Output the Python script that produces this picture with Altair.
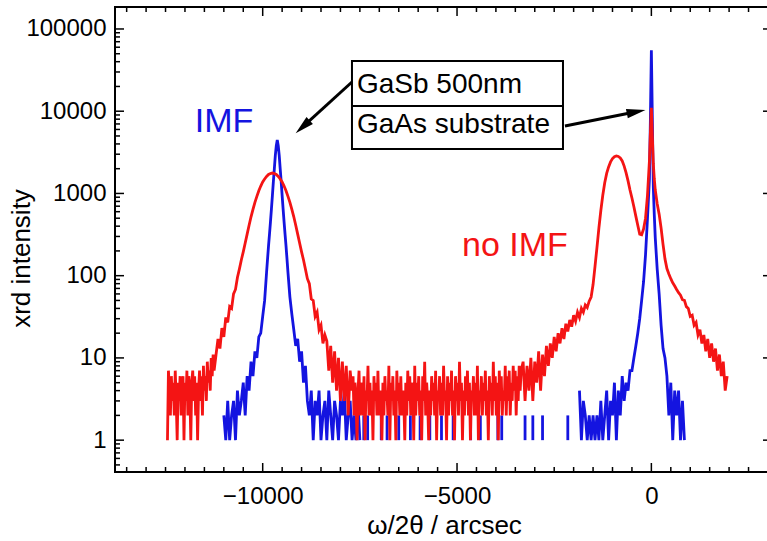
import altair as alt
import numpy as np
import pandas as pd

# ---------------- data ----------------
# each segment: (x_start, x_end, intensities) - arcsec / counts
red_segments = [
    (-12450, -11250, [1, 7, 4, 2, 6, 3, 5, 2, 7, 3,
                      1, 5, 3, 6, 2, 4, 6, 1, 5, 3,
                      7, 2, 6, 4, 1, 5, 7, 3, 6, 2,
                      5, 1, 4, 7, 3, 6, 2, 8, 4, 6,
                      3, 9, 5, 7, 4, 10, 6, 11, 7]),
    (-11200, -10650, [11, 17, 13, 23, 18, 31, 27, 42, 40, 60, 68, 95]),
    (-10600, -8900, [120, 155, 195, 250, 320, 410, 520, 640, 780, 920,
                     1080, 1230, 1380, 1500, 1610, 1700, 1750, 1770, 1750, 1700,
                     1610, 1500, 1380, 1230, 1080, 920, 780, 640, 520, 410,
                     320, 250, 195, 155, 120]),
    (-8850, -7700, [92, 80, 52, 50, 32, 36, 22, 25, 15, 19, 16, 7, 14, 5, 12, 4, 10, 3, 9, 3, 8, 2, 7, 4]),
    (-7675, -3350, [6, 2, 5, 3, 1, 4, 7, 2, 5, 3,
                    2, 6, 1, 4, 3, 8, 2, 5, 2, 4,
                    1, 6, 3, 5, 2, 7, 2, 4, 3, 1,
                    5, 2, 6, 3, 4, 2, 8, 1, 5, 3,
                    6, 2, 4, 1, 7, 3, 5, 2, 6, 2,
                    4, 3, 1, 5, 2, 7, 3, 6, 2, 4,
                    5, 1, 8, 2, 5, 3, 6, 2, 4, 1,
                    6, 3, 9, 2, 5, 3, 1, 4, 2, 6,
                    3, 5, 2, 7, 1, 4, 3, 6, 2, 5,
                    2, 8, 3, 4, 1, 6, 2, 5, 3, 7,
                    2, 4, 1, 6, 3, 5, 2, 9, 3, 5,
                    1, 4, 2, 6, 3, 7, 2, 5, 1, 4,
                    3, 6, 2, 5, 2, 8, 1, 4, 3, 6,
                    2, 5, 3, 7, 2, 4, 1, 6, 3, 5,
                    2, 9, 3, 6, 2, 5, 1, 7, 3, 6,
                    2, 4, 3, 8, 2, 6, 3, 7, 2, 5,
                    3, 8, 4, 7, 2, 6, 3, 8, 4, 7]),
    (-3300, -1500, [9, 3, 8, 4, 10, 3, 9, 5, 12, 4,
                    11, 6, 14, 8, 15, 10, 18, 12, 20, 15,
                    23, 17, 26, 21, 29, 24, 33, 28, 36, 31,
                    40, 36, 44, 41, 49, 55, 78]),
    (-1450, -50, [130, 220, 380, 620, 950, 1350, 1750, 2100, 2420, 2650,
                  2800, 2860, 2820, 2700, 2480, 2150, 1780, 1420, 1100, 880,
                  690, 530, 410, 320, 315, 370, 500, 950, 2500]),
    (-25, 75, [5500, 11000, 5000, 2300, 1500]),
    (100, 1950, [1100, 750, 560, 380, 240, 160, 122, 105, 92, 82,
                 75, 68, 62, 58, 51, 50, 42, 40, 32, 33,
                 25, 27, 19, 22, 15, 19, 12, 17, 10, 15,
                 9, 13, 7, 11, 6, 9, 4, 6]),
]

blue_segments_a = [
    (-11000, -10400, [2, 1, 3, 1, 2, 3, 1, 4, 2, 3, 5, 2, 6]),
    (-10350, -9900, [4, 9, 6, 12, 10, 18, 20, 32, 50, 110]),
    (-9875, -9375, [160, 230, 320, 450, 650, 950, 1400, 2000, 2900, 3800, 4470,
                    3800, 2900, 2000, 1400, 950, 650, 450, 320, 230, 160]),
    (-9350, -8850, [110, 55, 34, 22, 14, 17, 9, 12, 5, 8, 3]),
    (-8800, -7500, [2, 4, 1, 3, 2, 4, 1, 2, 3, 1, 4, 2, 1, 3, 2, 1, 3, 2, 4, 1, 2, 3, 1, 2, 1, 3, 1]),
]
blue_segments_b = [
    (-1850, -550, [4, 1, 3, 2, 1, 2, 1, 2, 1, 2, 1, 3, 1, 2, 4, 1, 3, 2, 5, 1, 4, 2, 6, 3, 5, 4, 7]),
    (-500, -50, [7, 10, 14, 20, 30, 50, 85, 180, 500, 1500]),
    (-25, 75, [8000, 55000, 8000, 1200, 550]),
    (100, 850, [290, 120, 60, 25, 13, 10, 6, 2, 5, 1, 4, 2, 4, 1, 3, 1]),
]
# isolated blue counts in the flat middle region
blue_spike_x = [-7400, -7300, -6950, -6800, -6500, -6200, -5950, -5700, -5400,
                -5100, -4650, -4400, -3950, -3850, -3250, -3050, -2800, -2150]
blue_spike_top = [2, 2, 2, 2, 2, 2, 2, 2, 2, 2, 2, 2, 3, 2, 2, 2, 2, 2]

x_label_values = [-10000, -5000, 0]
y_label_values = [1, 10, 100, 1000, 10000, 100000]

# annotation anchors in data coordinates
imf_label = (-10996, 5580)
noimf_label = (-3509, 173)
box_x = [-7703, -2274]
box_y = [40800, 3470]
box_div_y = 11570
box_text_x = -7574
box_text_y = [16640, 5430]
box_texts = ["GaSb 500nm", "GaAs substrate"]
arrow1 = [(-7703, 22650), (-8971, 6440)]
arrow2 = [(-2223, 6600), (-391, 9840)]


def build(segments, series, part):
    rows = []
    for x0, x1, vals in segments:
        xs = np.linspace(x0, x1, len(vals))
        for xv, yv in zip(xs, vals):
            rows.append({"x": float(xv), "y": float(yv), "series": series, "part": part})
    return rows


red_df = pd.DataFrame(build(red_segments, "no IMF", "r"))
blue_df = pd.DataFrame(build(blue_segments_a, "IMF", "a") + build(blue_segments_b, "IMF", "b"))
spike_df = pd.DataFrame({"x": blue_spike_x, "top": blue_spike_top, "base": [1] * len(blue_spike_x)})

x_minor = [v for v in range(-13500, 3000, 500) if v not in x_label_values]
y_minor = []
for e in range(-1, 6):
    for m in range(2, 10):
        v = m * 10 ** e
        if 0.41 <= v <= 185000:
            y_minor.append(v)

# the plot frame of the original runs slightly past the right edge of the picture
W, H = 652, 465
RED = "#f41414"
BLUE = "#1414e0"
FONT = "Liberation Sans"

xs = alt.Scale(domain=[-13800, 2975], nice=False, zero=False)
ys = alt.Scale(type="log", domain=[0.41, 185000], nice=False)

x_axis = alt.Axis(values=x_label_values, format="d", tickSize=0, domain=False, grid=False,
                  labelFont=FONT, labelFontSize=24, labelPadding=12, labelColor="black",
                  title="ω/2θ / arcsec", titleFont=FONT, titleFontSize=26, titleFontWeight="normal",
                  titleColor="black", titleX=329, titleY=61, titleBaseline="alphabetic")
y_axis = alt.Axis(values=y_label_values, format="d", tickSize=0, domain=False, grid=False,
                  labelFont=FONT, labelFontSize=24, labelPadding=9, labelColor="black",
                  title="xrd intensity", titleFont=FONT, titleFontSize=26, titleFontWeight="normal",
                  titleColor="black", titleAngle=270, titleX=-86, titleY=251,
                  titleBaseline="alphabetic", titleAlign="center")

LW = 2.8
blue_line = alt.Chart(blue_df).mark_line(color=BLUE, strokeWidth=LW).encode(
    x=alt.X("x:Q", scale=xs, axis=x_axis),
    y=alt.Y("y:Q", scale=ys, axis=y_axis),
    detail="part:N",
)
blue_spikes = alt.Chart(spike_df).mark_rule(color=BLUE, strokeWidth=LW).encode(
    x=alt.X("x:Q", scale=xs), y=alt.Y("top:Q", scale=ys), y2="base:Q"
)
red_line = alt.Chart(red_df).mark_line(color=RED, strokeWidth=LW).encode(
    x=alt.X("x:Q", scale=xs), y=alt.Y("y:Q", scale=ys), detail="part:N"
)

box_df = pd.DataFrame({"x": [box_x[0]], "x2": [box_x[1]], "y": [box_y[0]], "y2": [box_y[1]], "yd": [box_div_y]})
box = alt.Chart(box_df).mark_rect(fill="white", stroke="black", strokeWidth=2).encode(
    x=alt.X("x:Q", scale=xs), x2="x2:Q", y=alt.Y("y:Q", scale=ys), y2="y2:Q"
)
divider = alt.Chart(box_df).mark_rule(color="black", strokeWidth=2).encode(
    x=alt.X("x:Q", scale=xs), x2="x2:Q", y=alt.Y("yd:Q", scale=ys)
)
box_text_df = pd.DataFrame({"x": [box_text_x] * 2, "y": box_text_y, "t": box_texts})
box_text = alt.Chart(box_text_df).mark_text(font=FONT, fontSize=28, align="left",
                                             baseline="alphabetic", color="black").encode(
    x=alt.X("x:Q", scale=xs), y=alt.Y("y:Q", scale=ys), text="t:N"
)

imf_df = pd.DataFrame({"x": [imf_label[0]], "y": [imf_label[1]], "t": ["IMF"]})
imf_text = alt.Chart(imf_df).mark_text(font=FONT, fontSize=34, align="center",
                                       baseline="alphabetic", color=BLUE).encode(
    x=alt.X("x:Q", scale=xs), y=alt.Y("y:Q", scale=ys), text="t:N"
)
noimf_df = pd.DataFrame({"x": [noimf_label[0]], "y": [noimf_label[1]], "t": ["no IMF"]})
noimf_text = alt.Chart(noimf_df).mark_text(font=FONT, fontSize=34, align="center",
                                           baseline="alphabetic", color=RED).encode(
    x=alt.X("x:Q", scale=xs), y=alt.Y("y:Q", scale=ys), text="t:N"
)

arrow_df = pd.DataFrame({
    "x": [arrow1[0][0], arrow2[0][0]], "y": [arrow1[0][1], arrow2[0][1]],
    "x2": [arrow1[1][0], arrow2[1][0]], "y2": [arrow1[1][1], arrow2[1][1]],
})
arrow_lines = alt.Chart(arrow_df).mark_rule(color="black", strokeWidth=3).encode(
    x=alt.X("x:Q", scale=xs), y=alt.Y("y:Q", scale=ys), x2="x2:Q", y2="y2:Q"
)
HEAD = "M0,-1L0.5,1L-0.5,1Z"
head1 = alt.Chart(pd.DataFrame({"x": [arrow1[1][0]], "y": [arrow1[1][1]]})).mark_point(
    shape=HEAD, filled=True, color="black", size=360, angle=227.7, opacity=1).encode(
    x=alt.X("x:Q", scale=xs), y=alt.Y("y:Q", scale=ys))
head2 = alt.Chart(pd.DataFrame({"x": [arrow2[1][0]], "y": [arrow2[1][1]]})).mark_point(
    shape=HEAD, filled=True, color="black", size=360, angle=78.7, opacity=1).encode(
    x=alt.X("x:Q", scale=xs), y=alt.Y("y:Q", scale=ys))

# inward ticks
xmaj_df = pd.DataFrame({"v": x_label_values})
xmin_df = pd.DataFrame({"v": x_minor})
ymaj_df = pd.DataFrame({"v": y_label_values})
ymin_df = pd.DataFrame({"v": y_minor})


def xticks(df, length):
    b = alt.Chart(df).mark_rule(color="black", strokeWidth=1.5)
    return [
        b.encode(x=alt.X("v:Q", scale=xs), y=alt.value(H), y2=alt.value(H - length)),
        b.encode(x=alt.X("v:Q", scale=xs), y=alt.value(0), y2=alt.value(length)),
    ]


def yticks_left(df, length):
    b = alt.Chart(df).mark_rule(color="black", strokeWidth=1.5)
    return [b.encode(y=alt.Y("v:Q", scale=ys), x=alt.value(0), x2=alt.value(length))]


# only the tips of the right-hand major ticks are inside the picture
right_stubs = alt.Chart(ymaj_df).mark_rule(color="black", strokeWidth=1.5).encode(
    y=alt.Y("v:Q", scale=ys), x=alt.value(W - 4), x2=alt.value(W))

tick_layers = (xticks(xmaj_df, 9) + xticks(xmin_df, 5)
               + yticks_left(ymaj_df, 9) + yticks_left(ymin_df, 5) + [right_stubs])

# frame: left, top and bottom sides (the right side is outside the picture)
frame_df = pd.DataFrame({"k": [0]})
fb = alt.Chart(frame_df).mark_rule(color="black", strokeWidth=2, strokeCap="square")
frame = [
    fb.encode(x=alt.value(0), y=alt.value(0), y2=alt.value(H)),
    fb.encode(x=alt.value(0), x2=alt.value(W), y=alt.value(0)),
    fb.encode(x=alt.value(0), x2=alt.value(W), y=alt.value(H)),
]

chart = alt.layer(
    blue_line, blue_spikes, red_line, box, divider, box_text, imf_text, noimf_text,
    arrow_lines, head1, head2, *tick_layers, *frame
).properties(
    width=W, height=H,
    autosize=alt.AutoSizeParams(type="none"),
    padding={"left": 115, "top": 7, "right": 0, "bottom": 69},
    background="white",
).configure_view(strokeWidth=0, stroke=None)

chart.save("out.html", embed_options={"renderer": "svg", "actions": False})
